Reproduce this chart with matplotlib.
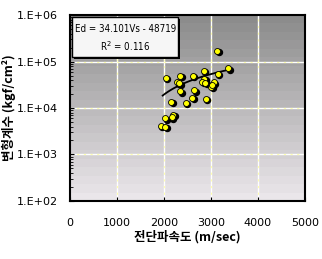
import numpy as np
import matplotlib
matplotlib.use('Agg')
import matplotlib.pyplot as plt
import matplotlib.transforms as mtransforms
from matplotlib.patches import Rectangle

plt.rcParams['font.family'] = ['DejaVu Sans', 'Noto Sans CJK KR']

# data
vs = [3134, 3368, 3142, 2851, 2617, 2347, 2035, 2858, 2283, 2809,
      3057, 3006, 2347, 2645, 2603, 2887, 2156, 2468, 2199, 2163,
      2028, 1936, 2028, 2320, 2880, 3020]
ed = [1.7e5, 7.2e4, 5.5e4, 6.3e4, 4.95e4, 4.95e4, 4.5e4, 4.27e4, 3.56e4, 3.68e4,
      3.56e4, 2.88e4, 2.29e4, 2.4e4, 1.67e4, 1.58e4, 1.35e4, 1.3e4, 7.2e3, 6.3e3,
      6.05e3, 4.2e3, 3.94e3, 3.4e4, 3.5e4, 3.1e4]
slope, intercept = 34.101, -48719
trend_x = [1972, 3370]

xticks = [0, 1000, 2000, 3000, 4000, 5000]
yticks = [1e2, 1e3, 1e4, 1e5, 1e6]
ytick_labels = ['1.E+02', '1.E+03', '1.E+04', '1.E+05', '1.E+06']

fig = plt.figure(figsize=(3.22, 2.59), dpi=100)
ax = fig.add_axes([0.2174, 0.224, 0.7298, 0.718])
ax.set_yscale('log')
ax.set_xlim(0, 5000)
ax.set_ylim(1e2, 1e6)

# banded gray gradient background
bands = np.linspace(0, 1, 22).reshape(-1, 1)
top = np.array([0x8c, 0x8c, 0x8c]) / 255
bot = np.array([0xea, 0xe6, 0xea]) / 255
img = top + (bot - top) * bands[:, :, None]
ax.imshow(img, extent=[0, 1, 0, 1], transform=ax.transAxes, aspect='auto',
          interpolation='nearest', origin='upper', zorder=0)

# grid: white with faint yellow dashes
for x in xticks[1:-1]:
    ax.axvline(x, color='white', lw=1, zorder=1)
    ax.axvline(x, color='#ffffb0', lw=0.8, ls=(0, (2, 4)), zorder=1)
for y in yticks[1:-1]:
    ax.axhline(y, color='white', lw=1, zorder=1)
    ax.axhline(y, color='#ffffb0', lw=0.8, ls=(0, (2, 4)), zorder=1)

# trend line
tx = np.linspace(trend_x[0], trend_x[1], 50)
ax.plot(tx, slope * tx + intercept, color='black', lw=1.3, zorder=3)

# points with drop shadow
shadow = mtransforms.offset_copy(ax.transData, fig=fig, x=1.5, y=-1.5, units='dots')
ax.plot(vs, ed, 'o', ms=4.3, color='black', transform=shadow, zorder=4)
ax.plot(vs, ed, 'o', ms=4.3, mfc='#ffff00', mec='black', mew=0.6, zorder=5)

ax.set_xticks(xticks)
ax.set_xticklabels([str(x) for x in xticks])
ax.set_yticks(yticks)
ax.set_yticklabels(ytick_labels)
ax.tick_params(axis='both', direction='in', length=3, labelsize=8, pad=12)
ax.tick_params(axis='y', pad=9)
ax.tick_params(axis='y', which='minor', direction='in', length=2)
for s in ax.spines.values():
    s.set_linewidth(1.5)
    s.set_zorder(6)

ax.set_xlabel('전단파속도 (m/sec)', family=['Noto Sans CJK KR', 'DejaVu Sans'],
              fontsize=9, fontweight='bold', labelpad=2)
ax.set_ylabel('변형계수 (kgf/cm²)', family=['Noto Sans CJK KR', 'DejaVu Sans'],
              fontsize=9, fontweight='bold', labelpad=0)

# equation box with shadow
ax.add_patch(Rectangle((0.016, 0.766), 0.452, 0.215, transform=ax.transAxes,
                       fc='black', ec='none', zorder=7))
ax.add_patch(Rectangle((0.009, 0.775), 0.452, 0.215, transform=ax.transAxes,
                       fc='#f6f6f6', ec='black', lw=1.0, zorder=7))
ax.text(0.235, 0.925, 'Ed = 34.101Vs - 48719', transform=ax.transAxes, ha='center',
        va='center', fontsize=7.0, fontstretch='condensed', zorder=8)
ax.text(0.235, 0.833, 'R$^2$ = 0.116', transform=ax.transAxes, ha='center',
        va='center', fontsize=7.0, fontstretch='condensed', zorder=8)

fig.savefig('out.png', dpi=100)
